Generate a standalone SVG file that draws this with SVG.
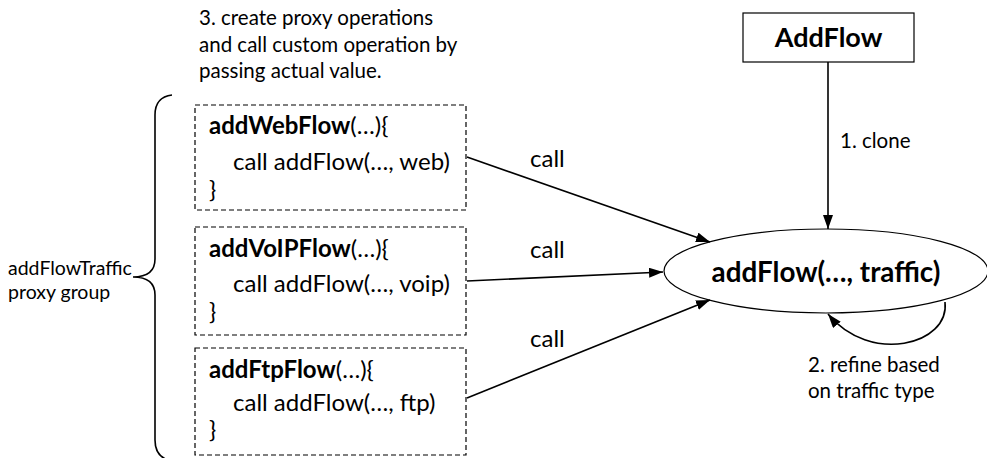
<svg xmlns="http://www.w3.org/2000/svg" width="987" height="458" viewBox="0 0 987 458">
<style>
text{font-family:Lato,"Open Sans","Liberation Sans",sans-serif;fill:#000}
.t{font-size:24px}
.s{font-size:20.5px}
.g{font-size:19.5px}
.b{font-weight:bold}
.box{fill:#fff;stroke:#000;stroke-width:1.2;stroke-dasharray:5,3}
.ln{fill:none;stroke:#000;stroke-width:1.6}
</style>
<defs>
<marker id="ah" viewBox="0 0 14 10" refX="14" refY="5" markerWidth="14" markerHeight="10" markerUnits="userSpaceOnUse" orient="auto">
<path d="M0,0 L14,5 L0,10 Z" fill="#000"/>
</marker>
</defs>
<g id="note">
<text class="s" x="199" y="25">3. create proxy operations</text>
<text class="s" x="199" y="52">and call custom operation by</text>
<text class="s" x="199" y="78">passing actual value.</text>
</g>
<g id="group-label">
<text class="g" x="8" y="275">addFlowTraffic</text>
<text class="g" x="8" y="299">proxy group</text>
<path class="ln" d="M172 95 Q155 97 155 115 L155 259 Q155 277 133 277 Q155 277 155 295 L155 440 Q155 458 172 461"/>
</g>
<g id="addWebFlow">
<rect class="box" x="195" y="105" width="271" height="105"/>
<text class="t" x="209" y="134"><tspan class="b">addWebFlow</tspan>(…){</text>
<text class="t" x="233" y="170">call addFlow(…, web)</text>
<text class="t" x="209" y="198">}</text>
</g>
<g id="addVoIPFlow">
<rect class="box" x="195" y="227" width="271" height="108"/>
<text class="t" x="209" y="257"><tspan class="b">addVoIPFlow</tspan>(…){</text>
<text class="t" x="233" y="292">call addFlow(…, voip)</text>
<text class="t" x="209" y="320">}</text>
</g>
<g id="addFtpFlow">
<rect class="box" x="195" y="348" width="271" height="107"/>
<text class="t" x="209" y="378"><tspan class="b">addFtpFlow</tspan>(…){</text>
<text class="t" x="233" y="411">call addFlow(…, ftp)</text>
<text class="t" x="209" y="438">}</text>
</g>
<g id="AddFlow">
<rect x="743" y="13" width="171" height="49" fill="#fff" stroke="#000" stroke-width="1.2"/>
<text class="b" x="828.5" y="47" font-size="27" text-anchor="middle">AddFlow</text>
</g>
<g id="addFlow-traffic">
<ellipse cx="826" cy="271" rx="162" ry="42" fill="#fff" stroke="#000" stroke-width="1.2"/>
<text class="b" x="826" y="282" font-size="27.8" text-anchor="middle">addFlow(…, traffic)</text>
</g>
<g id="connectors">
<line class="ln" x1="828" y1="62" x2="828" y2="229" marker-end="url(#ah)"/>
<text class="s" x="840" y="148">1. clone</text>
<line class="ln" x1="467" y1="157" x2="710" y2="242" marker-end="url(#ah)"/>
<line class="ln" x1="467" y1="281" x2="663" y2="272" marker-end="url(#ah)"/>
<line class="ln" x1="467" y1="398" x2="710" y2="300" marker-end="url(#ah)"/>
<text class="t" x="530" y="167">call</text>
<text class="t" x="530" y="258">call</text>
<text class="t" x="530" y="347">call</text>
<path class="ln" d="M945 302 C950 345 870 365 828 314" marker-end="url(#ah)"/>
<text class="s" x="808" y="372">2. refine based</text>
<text class="s" x="808" y="398">on traffic type</text>
</g>
</svg>
